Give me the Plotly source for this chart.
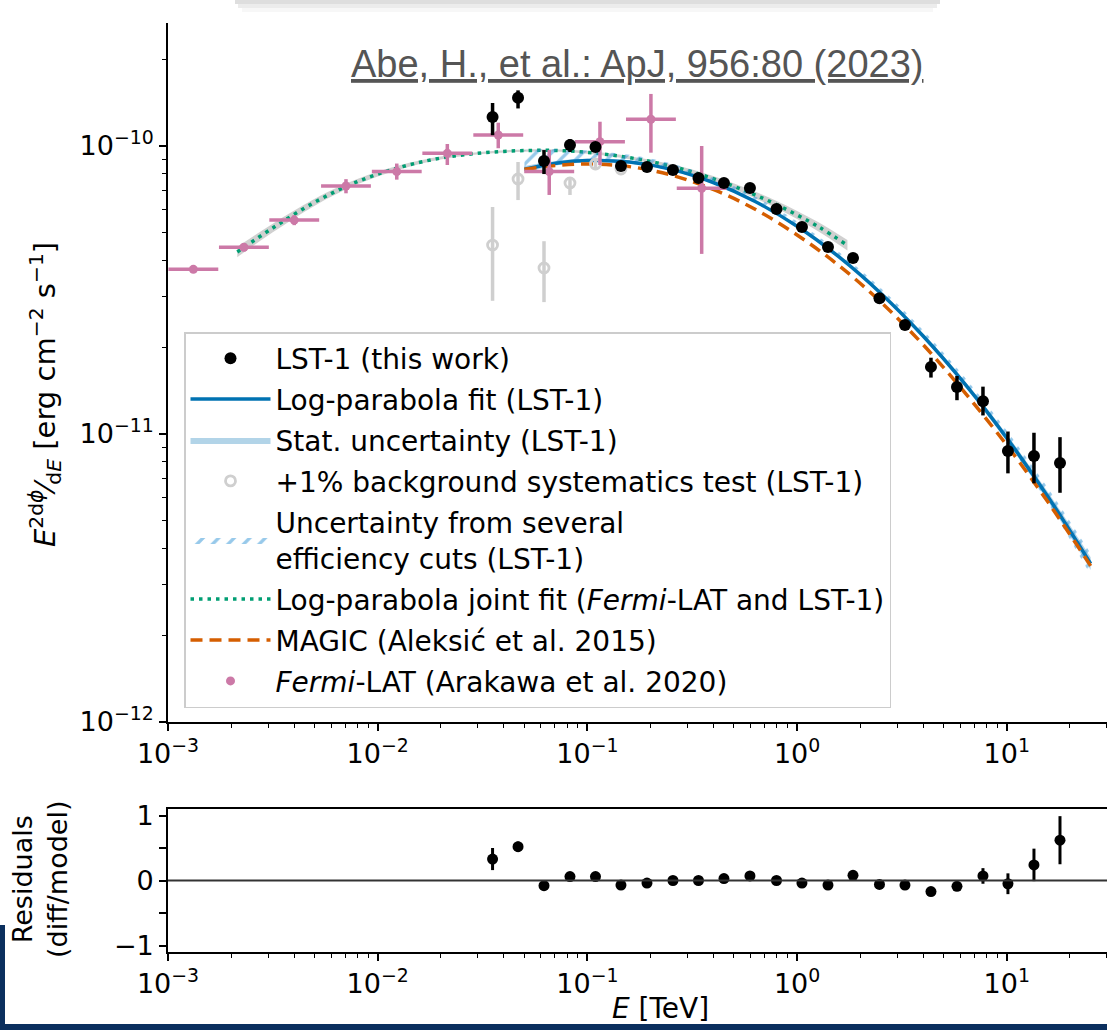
import plotly.graph_objects as go

# ---------------- data ----------------
# LST-1 spectral points (TeV, erg cm^-2 s^-1)
lst_E = [0.0353, 0.0467, 0.0621, 0.0826, 0.1093, 0.1446, 0.1924, 0.2559, 0.3387,
         0.4480, 0.5961, 0.7978, 1.055, 1.404, 1.848, 2.471, 3.270, 4.350, 5.788,
         7.700, 10.13, 13.48, 17.94]
lst_F = [1.26e-10, 1.47e-10, 8.87e-11, 1.008e-10, 9.92e-11, 8.52e-11, 8.45e-11, 8.25e-11,
         7.74e-11, 7.44e-11, 7.15e-11, 6.04e-11, 5.23e-11, 4.46e-11, 4.08e-11, 2.96e-11,
         2.39e-11, 1.71e-11, 1.456e-11, 1.30e-11, 8.73e-12, 8.39e-12, 7.93e-12]
lst_F_hi = [1.41e-10, 1.56e-10, 9.68e-11, 1.057e-10, 1.02e-10, 8.70e-11, 8.60e-11, 8.40e-11,
            7.88e-11, 7.58e-11, 7.28e-11, 6.16e-11, 5.34e-11, 4.56e-11, 4.18e-11, 3.05e-11,
            2.48e-11, 1.84e-11, 1.59e-11, 1.46e-11, 1.02e-11, 1.01e-11, 9.75e-12]
lst_F_lo = [1.09e-10, 1.35e-10, 7.99e-11, 9.53e-11, 9.60e-11, 8.35e-11, 8.30e-11, 8.10e-11,
            7.60e-11, 7.30e-11, 7.02e-11, 5.92e-11, 5.12e-11, 4.36e-11, 3.98e-11, 2.87e-11,
            2.30e-11, 1.57e-11, 1.31e-11, 1.16e-11, 7.30e-12, 6.74e-12, 6.25e-12]

# residuals (diff/model)
res_val = [0.33, 0.52, -0.08, 0.06, 0.06, -0.07, -0.04, 0.0, 0.0, 0.03, 0.07, 0.0, -0.04,
           -0.07, 0.08, -0.06, -0.07, -0.17, -0.09, 0.07, -0.05, 0.24, 0.62]
res_err = [0.17, 0.08, 0.04, 0.03, 0.03, 0.03, 0.03, 0.03, 0.03, 0.03, 0.03, 0.03, 0.03,
           0.03, 0.03, 0.03, 0.03, 0.04, 0.05, 0.12, 0.16, 0.25, 0.37]

# +1% background systematics test
bkg_E = [0.0353, 0.0467, 0.0621, 0.0826, 0.1093, 0.1446]
bkg_F = [4.53e-11, 7.68e-11, 3.77e-11, 7.44e-11, 8.66e-11, 8.32e-11]
bkg_F_hi = [6.14e-11, 8.80e-11, 4.67e-11, 7.74e-11, 9.08e-11, 8.50e-11]
bkg_F_lo = [2.90e-11, 6.49e-11, 2.87e-11, 6.76e-11, 8.25e-11, 8.15e-11]

# Fermi-LAT points
fermi_E = [1.321e-3, 2.301e-3, 4.0e-3, 7.06e-3, 1.233e-2, 2.148e-2, 3.758e-2, 6.577e-2,
           0.1148, 0.2009, 0.3508]
fermi_E_lo = [1.005e-3, 1.750e-3, 3.042e-3, 5.37e-3, 9.38e-3, 1.633e-2, 2.858e-2, 5.00e-2,
              8.73e-2, 0.1528, 0.2668]
fermi_E_hi = [1.737e-3, 3.026e-3, 5.26e-3, 9.28e-3, 1.621e-2, 2.825e-2, 4.942e-2, 8.65e-2,
              0.1510, 0.2642, 0.4613]
fermi_F = [3.73e-11, 4.45e-11, 5.53e-11, 7.26e-11, 8.15e-11, 9.43e-11, 1.092e-10, 8.15e-11,
           1.035e-10, 1.238e-10, 7.13e-11]
fermi_F_hi = [3.82e-11, 4.59e-11, 5.75e-11, 7.67e-11, 8.69e-11, 1.016e-10, 1.205e-10,
              9.68e-11, 1.214e-10, 1.516e-10, 1.00e-10]
fermi_F_lo = [3.64e-11, 4.31e-11, 5.31e-11, 6.85e-11, 7.64e-11, 8.59e-11, 9.82e-11,
              6.76e-11, 8.59e-11, 9.48e-11, 4.22e-11]

# LST-1 log-parabola fit, sampled along the drawn curve
fit_E = [0.0501, 0.0708, 0.1, 0.1585, 0.2512, 0.3981, 0.631, 1.0, 1.585, 2.512, 3.981,
         6.31, 10.0, 15.85, 25.12]
fit_F = [8.297e-11, 8.708e-11, 8.900e-11, 8.796e-11, 8.297e-11, 7.468e-11, 6.417e-11,
         5.262e-11, 4.118e-11, 3.076e-11, 2.193e-11, 1.492e-11, 9.685e-12, 5.999e-12,
         3.548e-12]
# statistical band half-width (dex) and efficiency-cut band edges (dex) around the fit
stat_dex = [0.012, 0.008, 0.006, 0.005, 0.004, 0.003, 0.003, 0.003, 0.004, 0.005, 0.007,
            0.009, 0.012, 0.016, 0.022]
eff_up_dex = [0.067, 0.05, 0.035, 0.025, 0.02, 0.017, 0.017, 0.017, 0.017, 0.018, 0.02,
              0.022, 0.025, 0.03, 0.035]
eff_lo_dex = [0.005, 0.005, 0.005, 0.005, 0.005, 0.005, 0.005, 0.005, 0.005, 0.005, 0.005,
              0.005, 0.012, 0.022, 0.04]

# MAGIC (Aleksic et al. 2015) curve
magic_E = fit_E
magic_F = [8.297e-11, 8.55e-11, 8.657e-11, 8.478e-11, 7.924e-11, 7.066e-11, 6.030e-11,
           4.909e-11, 3.842e-11, 2.870e-11, 2.046e-11, 1.392e-11, 9.143e-12, 5.755e-12,
           3.483e-12]

# joint fit (Fermi-LAT and LST-1)
joint_E = [0.00214, 0.00316, 0.00501, 0.00794, 0.0126, 0.0200, 0.0316, 0.0501, 0.0794,
           0.126, 0.200, 0.316, 0.501, 0.794, 1.259, 1.738]
joint_F = [4.285e-11, 5.19e-11, 6.38e-11, 7.50e-11, 8.41e-11, 9.08e-11, 9.46e-11, 9.64e-11,
           9.62e-11, 9.33e-11, 8.83e-11, 8.13e-11, 7.24e-11, 6.27e-11, 5.25e-11, 4.52e-11]
joint_dex = [0.018, 0.015, 0.012, 0.009, 0.007, 0.005, 0.004, 0.004, 0.004, 0.005, 0.006,
             0.008, 0.010, 0.013, 0.016, 0.018]

# tick labels
x_tickvals = [1e-3, 1e-2, 1e-1, 1, 10]
x_ticktext = ["10<sup>\u22123</sup>", "10<sup>\u22122</sup>", "10<sup>\u22121</sup>",
              "10<sup>0</sup>", "10<sup>1</sup>"]
y_tickvals = [1e-12, 1e-11, 1e-10]
y_ticktext = ["10<sup>\u221212</sup>", "10<sup>\u221211</sup>", "10<sup>\u221210</sup>"]
r_tickvals = [-1, -0.5, 0, 0.5, 1]
r_ticktext = ["\u22121", "", "0", "", "1"]

# ---------------- layout helpers ----------------
W, H = 1107, 1030
def PX(x): return x / W
def PY(y): return 1 - y / H

BLACK = "black"
BLUE = "#0072B2"
ORANGE = "#D55E00"
GREEN = "#009E73"
PINK = "#CC79A7"
GREY = "#cfcfcf"
FONT = "DejaVu Sans"
TICKSIZE = 27

def scale(vals, dex, sign):
    return [v * 10 ** (sign * d) for v, d in zip(vals, dex)]

fig = go.Figure()

# grey band of joint fit
fig.add_trace(go.Scatter(x=joint_E, y=scale(joint_F, joint_dex, -1), mode="lines",
                         line=dict(width=0, shape="spline"), showlegend=False, hoverinfo="skip"))
fig.add_trace(go.Scatter(x=joint_E, y=scale(joint_F, joint_dex, 1), mode="lines",
                         line=dict(width=0, shape="spline"), fill="tonexty",
                         fillcolor="rgba(150,150,150,0.45)", showlegend=False, hoverinfo="skip"))
# joint fit dotted
fig.add_trace(go.Scatter(x=joint_E, y=joint_F, mode="lines",
                         line=dict(color=GREEN, width=3.5, dash="3.5px,5px", shape="spline"),
                         name="Log-parabola joint fit (<i>Fermi</i>-LAT and LST-1)",
                         legendgroup="g6", legendrank=6))
# stat band
fig.add_trace(go.Scatter(x=fit_E, y=scale(fit_F, stat_dex, -1), mode="lines",
                         line=dict(width=0, shape="spline"), showlegend=False, hoverinfo="skip"))
fig.add_trace(go.Scatter(x=fit_E, y=scale(fit_F, stat_dex, 1), mode="lines",
                         line=dict(width=0, shape="spline"), fill="tonexty",
                         fillcolor="rgba(0,114,178,0.3)",
                         name="Stat. uncertainty (LST-1)", legendgroup="g3", legendrank=3))
# efficiency cut hatched band
fig.add_trace(go.Scatter(x=fit_E, y=scale(fit_F, eff_lo_dex, -1), mode="lines",
                         line=dict(width=0, shape="spline"), showlegend=False, hoverinfo="skip"))
fig.add_trace(go.Scatter(x=fit_E, y=scale(fit_F, eff_up_dex, 1), mode="lines",
                         line=dict(width=0, shape="spline"), fill="tonexty",
                         fillcolor="rgba(0,0,0,0)",
                         fillpattern=dict(shape="/", fgcolor="#2f93d6", bgcolor="rgba(0,0,0,0)",
                                          size=11, solidity=0.3),
                         name="Uncertainty from several<br>efficiency cuts (LST-1)",
                         legendgroup="g5", legendrank=5))
# LST fit
fig.add_trace(go.Scatter(x=fit_E, y=fit_F, mode="lines",
                         line=dict(color=BLUE, width=3.5, shape="spline"),
                         name="Log-parabola fit (LST-1)", legendgroup="g2", legendrank=2))
# MAGIC
fig.add_trace(go.Scatter(x=magic_E, y=magic_F, mode="lines",
                         line=dict(color=ORANGE, width=3.5, dash="12px,7px", shape="spline"),
                         name="MAGIC (Aleksić et al. 2015)", legendgroup="g7", legendrank=7))
# background systematics test points
fig.add_trace(go.Scatter(
    x=bkg_E, y=bkg_F, mode="markers",
    marker=dict(symbol="circle-open", size=10, color=GREY, line=dict(width=2.8, color=GREY)),
    error_y=dict(type="data", array=[h - f for h, f in zip(bkg_F_hi, bkg_F)],
                 arrayminus=[f - l for f, l in zip(bkg_F, bkg_F_lo)],
                 color=GREY, thickness=3.5, width=0),
    name="+1% background systematics test (LST-1)", legendgroup="g4", legendrank=4))
# Fermi-LAT
fig.add_trace(go.Scatter(
    x=fermi_E, y=fermi_F, mode="markers",
    marker=dict(symbol="circle", size=9, color=PINK),
    error_y=dict(type="data", array=[h - f for h, f in zip(fermi_F_hi, fermi_F)],
                 arrayminus=[f - l for f, l in zip(fermi_F, fermi_F_lo)],
                 color=PINK, thickness=3.5, width=0),
    error_x=dict(type="data", array=[h - e for h, e in zip(fermi_E_hi, fermi_E)],
                 arrayminus=[e - l for e, l in zip(fermi_E, fermi_E_lo)],
                 color=PINK, thickness=3.5, width=0),
    name="<i>Fermi</i>-LAT (Arakawa et al. 2020)", legendgroup="g8", legendrank=8))
# LST-1 points
fig.add_trace(go.Scatter(
    x=lst_E, y=lst_F, mode="markers",
    marker=dict(symbol="circle", size=12, color=BLACK),
    error_y=dict(type="data", array=[h - f for h, f in zip(lst_F_hi, lst_F)],
                 arrayminus=[f - l for f, l in zip(lst_F, lst_F_lo)],
                 color=BLACK, thickness=3.5, width=0),
    name="LST-1 (this work)", legendgroup="g1", legendrank=1))

# residuals
fig.add_trace(go.Scatter(
    x=lst_E, y=res_val, mode="markers", xaxis="x2", yaxis="y2",
    marker=dict(symbol="circle", size=11, color=BLACK),
    error_y=dict(type="data", array=res_err, color=BLACK, thickness=3, width=0),
    showlegend=False))

axis_common = dict(showline=True, linecolor="black", linewidth=1.6, ticks="outside",
                   ticklen=7, tickwidth=1.5, tickcolor="black", showgrid=False,
                   zeroline=False, automargin=False,
                   tickfont=dict(family=FONT, size=TICKSIZE, color="black"))
minor_log = dict(ticks="outside", ticklen=4, tickwidth=1.2, tickcolor="black",
                 dtick="D1", showgrid=False)

fig.update_layout(
    width=W, height=H, margin=dict(l=0, r=0, t=0, b=0, autoexpand=False),
    paper_bgcolor="white", plot_bgcolor="white",
    font=dict(family=FONT, size=TICKSIZE, color="black"),
    xaxis=dict(type="log", range=[-3, 1.478], domain=[PX(168), 1.0], anchor="y",
               tickmode="array", tickvals=x_tickvals, ticktext=x_ticktext,
               minor=minor_log, **axis_common),
    yaxis=dict(type="log", range=[-12, -9.573], domain=[PY(722), PY(23)], anchor="x",
               tickmode="array", tickvals=y_tickvals, ticktext=y_ticktext,
               minor=minor_log, **axis_common),
    xaxis2=dict(type="log", range=[-3, 1.478], domain=[PX(168), 1.0], anchor="y2",
                matches="x", tickmode="array", tickvals=x_tickvals, ticktext=x_ticktext,
                minor=minor_log, mirror=True, **axis_common),
    yaxis2=dict(range=[-1.1, 1.1], domain=[PY(952), PY(809)], anchor="x2",
                tickmode="array", tickvals=r_tickvals, ticktext=r_ticktext, **axis_common),
    legend=dict(x=PX(184), y=PY(332), xanchor="left", yanchor="top",
                bgcolor="rgba(255,255,255,0.85)", bordercolor="#cccccc", borderwidth=1.5,
                font=dict(family=FONT, size=28, color="black"),
                traceorder="grouped", tracegroupgap=1.5, itemwidth=80),
    showlegend=True,
)

# zero line in residual panel
fig.add_shape(type="line", xref="x2 domain", yref="y2", x0=0, x1=1, y0=0, y1=0,
              line=dict(color="#333333", width=1.8))

# slide decorations: top shadowed box, navy frame
fig.add_shape(type="rect", xref="paper", yref="paper", x0=PX(235), x1=PX(940),
              y0=PY(4), y1=PY(0), fillcolor="#dedede", line=dict(width=0), layer="above")
fig.add_shape(type="rect", xref="paper", yref="paper", x0=PX(238), x1=PX(937),
              y0=PY(8), y1=PY(4), fillcolor="#ececec", line=dict(width=0), layer="above")
fig.add_shape(type="rect", xref="paper", yref="paper", x0=PX(242), x1=PX(933),
              y0=PY(12), y1=PY(8), fillcolor="#f7f7f7", line=dict(width=0), layer="above")
NAVY = "#0b2f5e"
fig.add_shape(type="rect", xref="paper", yref="paper", x0=0, x1=PX(5), y0=0, y1=PY(925),
              fillcolor=NAVY, line=dict(width=0), layer="above")
fig.add_shape(type="rect", xref="paper", yref="paper", x0=0, x1=1, y0=0, y1=PY(1024),
              fillcolor=NAVY, line=dict(width=0), layer="above")

# texts
fig.add_annotation(xref="paper", yref="paper", x=PX(637), y=PY(64), xanchor="center",
                   yanchor="middle", showarrow=False,
                   text="<u>Abe, H., et al.: ApJ, 956:80 (2023)</u>",
                   font=dict(family="Liberation Sans Narrow, Liberation Sans, Arial", size=38,
                             color="#555555"))
fig.add_annotation(xref="paper", yref="paper", x=PX(45), y=PY(395), xanchor="center",
                   yanchor="middle", showarrow=False, textangle=-90,
                   text="<i>E</i><sup>2</sup><sup>d<i>ϕ</i></sup>\u2044<sub>d<i>E</i></sub> [erg cm<sup>\u22122</sup> s<sup>\u22121</sup>]",
                   font=dict(family=FONT, size=29, color="black"))
fig.add_annotation(xref="paper", yref="paper", x=PX(40), y=PY(880), xanchor="center",
                   yanchor="middle", showarrow=False, textangle=-90,
                   text="Residuals<br>(diff/model)",
                   font=dict(family=FONT, size=27, color="black"))
fig.add_annotation(xref="paper", yref="paper", x=PX(660), y=PY(1008), xanchor="center",
                   yanchor="middle", showarrow=False,
                   text="<i>E</i> [TeV]",
                   font=dict(family=FONT, size=28, color="black"))

fig.write_html("out.html")
